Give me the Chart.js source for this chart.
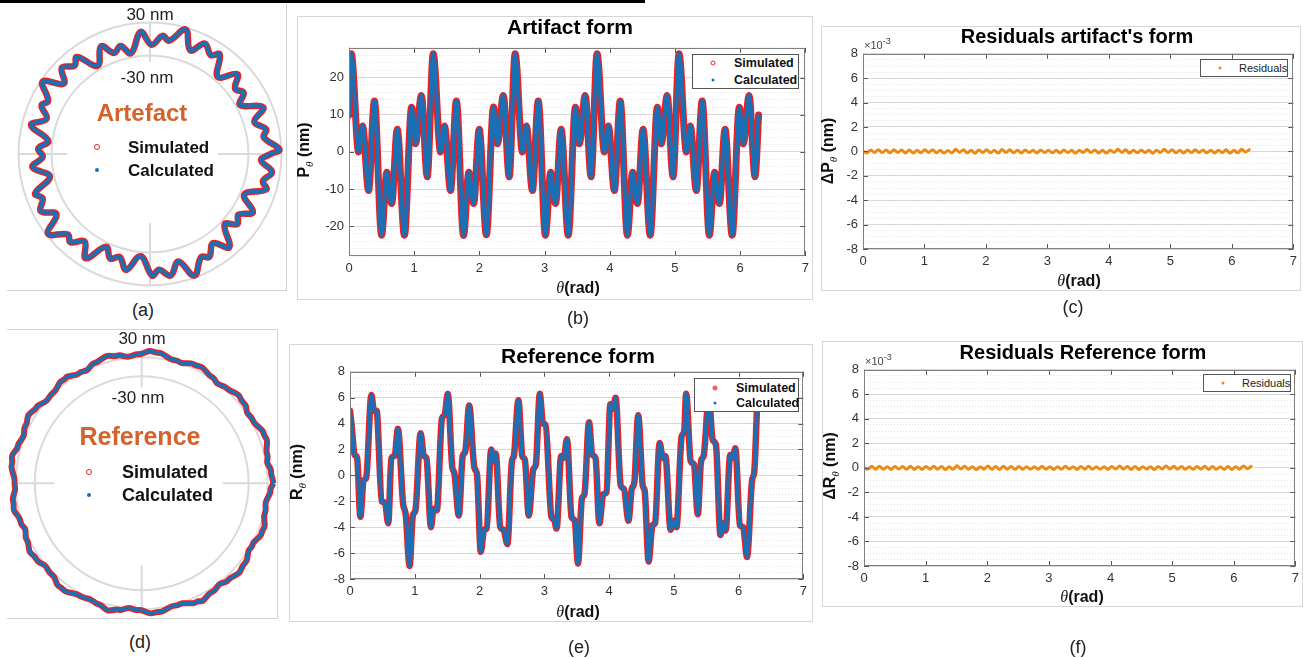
<!DOCTYPE html>
<html><head><meta charset="utf-8">
<script src="https://cdn.jsdelivr.net/npm/chart.js@4.4.1/dist/chart.umd.min.js"></script>
<style>
html,body{margin:0;padding:0;}
body{width:1303px;height:658px;position:relative;background:#fff;overflow:hidden;font-family:"Liberation Sans",Arial,Helvetica,sans-serif;color:#111;}
canvas{position:absolute;}
.t{position:absolute;transform:translate(-50%,-50%);white-space:nowrap;line-height:1;}
.l{position:absolute;transform:translateY(-50%);white-space:nowrap;line-height:1;}
.box{position:absolute;box-sizing:border-box;}
.ttl{font-weight:bold;color:#000;}
.ax{font-weight:bold;font-size:16px;color:#111;}
.rot{transform:translate(-50%,-50%) rotate(-90deg);}
.th{font-family:"Liberation Serif","DejaVu Serif",serif;font-style:italic;font-weight:normal;}
sub.th{font-size:11px;vertical-align:-4px;}
.lg{position:absolute;box-sizing:border-box;background:#fff;border:1px solid #555;}
.dot{position:absolute;border-radius:50%;transform:translate(-50%,-50%);box-sizing:border-box;}
.pl{font-size:18px;color:#222;}
.pol{font-size:17px;color:#222;}
.pleg{font-size:17px;font-weight:bold;color:#111;}
</style></head>
<body>
<!-- black strip at top -->
<div class="box" style="left:0;top:0;width:645px;height:3px;background:#000"></div>

<!-- panel frames -->
<div class="box" style="left:286px;top:4px;width:1px;height:287px;background:#d2d2d2"></div>
<div class="box" style="left:7px;top:290px;width:280px;height:1px;background:#d2d2d2"></div>
<div class="box" style="left:297px;top:16px;width:516px;height:284px;border:1px solid #d6d6d6"></div>
<div class="box" style="left:821px;top:26px;width:480px;height:265px;border:1px solid #d6d6d6"></div>
<div class="box" style="left:7px;top:329px;width:271px;height:290px;border:1px solid #d2d2d2;border-left:none"></div>
<div class="box" style="left:289px;top:344px;width:524px;height:278px;border:1px solid #d6d6d6"></div>
<div class="box" style="left:822px;top:341px;width:481px;height:266px;border:1px solid #d6d6d6"></div>

<canvas id="ca" width="280" height="286" style="left:7px;top:4px"></canvas>
<canvas id="cd" width="270" height="289" style="left:7px;top:329px"></canvas>
<canvas id="cb" width="515" height="251" style="left:299px;top:35px"></canvas>
<canvas id="ce" width="512" height="250" style="left:300px;top:359px"></canvas>
<canvas id="cc" width="489" height="238" style="left:813px;top:41px"></canvas>
<canvas id="cf" width="490" height="239" style="left:814px;top:357px"></canvas>

<!-- (a) polar labels -->
<div class="t pol" style="left:150px;top:14px">30 nm</div>
<div class="t pol" style="left:147px;top:77px;background:#fff;padding:0 2px">-30 nm</div>
<div class="t" style="left:142px;top:113px;font-size:24px;font-weight:bold;color:#d4622a">Artefact</div>
<div class="dot" style="left:97px;top:147px;width:6px;height:6px;border:1.5px solid #f02020"></div>
<div class="dot" style="left:97px;top:170px;width:4px;height:4px;background:#1a6fb5"></div>
<div class="l pleg" style="left:128px;top:147px">Simulated</div>
<div class="l pleg" style="left:128px;top:170px">Calculated</div>
<div class="t pl" style="left:143px;top:310px">(a)</div>

<!-- (d) polar labels -->
<div class="t pol" style="left:142px;top:338px">30 nm</div>
<div class="t pol" style="left:138px;top:397px;background:#fff;padding:0 2px">-30 nm</div>
<div class="t" style="left:140px;top:436px;font-size:25px;font-weight:bold;color:#d4622a">Reference</div>
<div class="dot" style="left:89px;top:472px;width:6px;height:6px;border:1.5px solid #f02020"></div>
<div class="dot" style="left:89px;top:495px;width:4px;height:4px;background:#1a6fb5"></div>
<div class="l pleg" style="left:122px;top:472px;font-size:18px">Simulated</div>
<div class="l pleg" style="left:122px;top:495px;font-size:18px">Calculated</div>
<div class="t pl" style="left:140px;top:642px">(d)</div>

<!-- (b) -->
<div class="t ttl" style="left:570px;top:26px;font-size:21px">Artifact form</div>
<div class="t ax" style="left:578px;top:288px"><span class="th">θ</span>(rad)</div>
<div class="t ax rot" style="left:305px;top:150px">P<sub class="th">θ</sub> (nm)</div>
<div class="lg" style="left:692px;top:54px;width:107px;height:35px"></div>
<div class="dot" style="left:713px;top:63px;width:5px;height:5px;border:1.3px solid #f02020"></div>
<div class="dot" style="left:713px;top:80px;width:3px;height:3px;background:#1a6fb5"></div>
<div class="l" style="left:734px;top:63px;font-size:12.5px;font-weight:bold">Simulated</div>
<div class="l" style="left:734px;top:80px;font-size:12.5px;font-weight:bold">Calculated</div>
<div class="t pl" style="left:578px;top:318px">(b)</div>

<!-- (e) -->
<div class="t ttl" style="left:578px;top:355px;font-size:21px">Reference form</div>
<div class="t ax" style="left:578px;top:612px"><span class="th">θ</span>(rad)</div>
<div class="t ax rot" style="left:298px;top:472px">R<sub class="th">θ</sub> (nm)</div>
<div class="lg" style="left:694px;top:378px;width:105px;height:34px"></div>
<div class="dot" style="left:715px;top:388px;width:5px;height:5px;background:#ff5a5a"></div>
<div class="dot" style="left:715px;top:403px;width:3px;height:3px;background:#1a6fb5"></div>
<div class="l" style="left:736px;top:388px;font-size:12.5px;font-weight:bold">Simulated</div>
<div class="l" style="left:736px;top:403px;font-size:12.5px;font-weight:bold">Calculated</div>
<div class="t pl" style="left:579px;top:647px">(e)</div>

<!-- (c) -->
<div class="t ttl" style="left:1077px;top:36px;font-size:20px">Residuals artifact's form</div>
<div class="l" style="left:864px;top:44px;font-size:11px;color:#444">×10<sup style="font-size:9px">-3</sup></div>
<div class="t ax" style="left:1079px;top:281px"><span class="th">θ</span>(rad)</div>
<div class="t ax rot" style="left:829px;top:151px">ΔP<sub class="th">θ</sub> (nm)</div>
<div class="lg" style="left:1200px;top:59px;width:88px;height:18px"></div>
<div class="dot" style="left:1220px;top:68px;width:3px;height:3px;background:#ee8a12"></div>
<div class="l" style="left:1239px;top:68px;font-size:11px;color:#222">Residuals</div>
<div class="t pl" style="left:1073px;top:307px">(c)</div>

<!-- (f) -->
<div class="t ttl" style="left:1083px;top:352px;font-size:20px">Residuals Reference form</div>
<div class="l" style="left:865px;top:360px;font-size:11px;color:#444">×10<sup style="font-size:9px">-3</sup></div>
<div class="t ax" style="left:1082px;top:597px"><span class="th">θ</span>(rad)</div>
<div class="t ax rot" style="left:831px;top:466px">ΔR<sub class="th">θ</sub> (nm)</div>
<div class="lg" style="left:1203px;top:374px;width:88px;height:18px"></div>
<div class="dot" style="left:1223px;top:383px;width:3px;height:3px;background:#ee8a12"></div>
<div class="l" style="left:1242px;top:383px;font-size:11px;color:#222">Residuals</div>
<div class="t pl" style="left:1078px;top:647px">(f)</div>

<script>
// ---------- DATA ----------
// Artifact form P(theta), nm — extrema
const artTheta = [0,
 0.035,0.147,0.208,0.300,0.390,0.500,0.580,0.655,0.740,0.850,0.960,1.020,1.110,1.200,
 1.292,1.404,1.465,1.557,1.647,1.757,1.837,1.912,1.997,2.107,2.217,2.277,2.367,2.457,
 2.548,2.660,2.721,2.813,2.903,3.013,3.093,3.168,3.253,3.363,3.473,3.533,3.623,3.713,
 3.805,3.917,3.978,4.070,4.160,4.270,4.350,4.425,4.510,4.620,4.730,4.790,4.880,4.970,
 5.062,5.174,5.235,5.327,5.417,5.527,5.607,5.682,5.767,5.877,5.987,6.047,6.137,6.227,
 6.283];
const artP = [9.9,
 26.4,0.0,7.0,-10.4,13.7,-22.4,-5.5,-13.9,6.1,-22.4,12.0,2.2,15.2,-6.7,
 26.4,0.0,7.0,-10.4,13.7,-22.5,-5.5,-13.9,6.1,-22.3,12.1,2.2,15.2,-6.7,
 26.4,0.0,7.0,-10.4,13.7,-22.4,-5.5,-13.9,6.1,-22.4,12.0,2.2,15.2,-6.7,
 26.4,0.0,7.0,-10.4,13.7,-22.4,-5.5,-13.9,6.1,-22.4,12.0,2.2,15.2,-6.7,
 26.4,0.0,7.0,-10.4,13.7,-22.4,-5.5,-13.9,6.1,-22.4,12.0,2.2,15.2,-6.7,
 9.9];

// Reference form R(theta), nm
const refTheta = [0.00,0.03,0.07,0.11,0.16,0.21,0.25,0.33,0.37,0.41,
 0.49,0.54,0.59,0.64,0.69,0.74,0.82,0.86,0.92,0.97,
 1.01,1.09,1.14,1.18,1.25,1.29,1.34,1.42,1.46,1.51,
 1.58,1.61,1.68,1.74,1.78,1.84,1.92,1.96,2.02,2.07,
 2.11,2.18,2.21,2.25,2.32,2.37,2.43,2.50,2.53,2.60,
 2.66,2.70,2.76,2.83,2.87,2.93,2.98,3.02,3.11,3.15,
 3.19,3.26,3.30,3.35,3.42,3.47,3.52,3.58,3.62,3.69,
 3.74,3.79,3.85,3.91,3.96,4.02,4.06,4.10,4.18,4.23,
 4.30,4.35,4.39,4.45,4.52,4.55,4.61,4.67,4.71,4.78,
 4.83,4.87,4.95,5.00,5.04,5.12,5.16,5.19,5.26,5.31,
 5.37,5.42,5.46,5.54,5.60,5.65,5.72,5.76,5.80,5.87,
 5.91,5.95,6.02,6.07,6.13,6.21,6.24,6.283];
const refR = [5.0,3.6,1.6,1.35,-3.2,-0.4,-0.2,6.2,5.0,5.0,
 -2.0,-2.1,-3.7,1.35,1.5,3.6,-2.2,-3.0,-7.0,-3.1,
 -2.7,3.25,1.5,1.35,-4.0,-2.6,-2.7,4.4,4.65,6.3,
 0.6,0.2,-3.1,1.5,1.85,5.4,0.6,0.1,-5.9,-4.2,
 -4.1,2.0,1.1,1.7,-4.0,-4.2,-5.3,1.1,1.5,5.8,
 1.5,1.2,-3.1,0.45,0.85,6.3,4.0,3.9,-3.2,-3.4,
 -4.1,1.5,1.35,2.8,-3.2,-3.5,-6.8,-1.8,-1.45,4.1,
 1.6,1.35,-3.7,-1.45,-1.3,5.5,5.15,6.0,-0.8,-1.05,
 -3.5,-1.05,-0.55,4.65,-0.8,-1.2,-6.65,-3.85,-3.7,2.5,
 1.35,1.5,-4.2,-3.5,-4.0,3.0,3.4,6.3,1.1,0.85,
 -3.0,1.1,1.5,6.0,2.75,2.35,-4.6,-3.7,-4.25,1.6,
 1.35,2.1,-3.85,-4.0,-6.3,-0.3,0.2,5.0];

// Residuals (units of 1e-3 nm) (c) and (f)
const resTheta = [0,0.063,0.126,0.188,0.251,0.314,0.377,0.440,0.503,0.565,
 0.628,0.691,0.754,0.817,0.880,0.942,1.005,1.068,1.131,1.194,
 1.257,1.319,1.382,1.445,1.508,1.571,1.634,1.696,1.759,1.822,
 1.885,1.948,2.011,2.073,2.136,2.199,2.262,2.325,2.388,2.450,
 2.513,2.576,2.639,2.702,2.765,2.827,2.890,2.953,3.016,3.079,
 3.142,3.204,3.267,3.330,3.393,3.456,3.519,3.581,3.644,3.707,
 3.770,3.833,3.896,3.958,4.021,4.084,4.147,4.210,4.273,4.335,
 4.398,4.461,4.524,4.587,4.650,4.712,4.775,4.838,4.901,4.964,
 5.027,5.089,5.152,5.215,5.278,5.341,5.404,5.466,5.529,5.592,
 5.655,5.718,5.781,5.843,5.906,5.969,6.032,6.095,6.158,6.220,
 6.283];
const resP = [0.00,-0.13,0.12,-0.09,0.14,-0.10,0.12,-0.12,0.13,-0.09,
 0.11,-0.13,0.12,-0.14,0.09,-0.12,0.13,-0.09,0.14,-0.12,
 0.10,-0.14,0.08,-0.13,0.17,-0.08,0.14,-0.13,0.09,-0.15,
 0.12,-0.09,0.14,-0.12,0.10,-0.14,0.16,-0.09,0.13,-0.12,
 0.10,-0.13,0.12,-0.10,0.09,-0.13,0.12,-0.09,0.10,-0.12,
 0.09,-0.13,0.12,-0.10,0.09,-0.14,0.10,-0.09,0.16,-0.10,
 0.12,-0.13,0.09,-0.14,0.10,-0.08,0.17,-0.09,0.13,-0.14,
 0.10,-0.12,0.12,-0.10,0.09,-0.15,0.10,-0.09,0.17,-0.08,
 0.14,-0.12,0.10,-0.13,0.12,-0.10,0.13,-0.09,0.12,-0.12,
 0.10,-0.13,0.09,-0.10,0.13,-0.14,0.09,-0.12,0.17,-0.04,
 0.14];
const resR = [0.03,-0.12,0.13,-0.10,0.14,-0.12,0.10,-0.13,0.12,-0.09,
 0.12,-0.12,0.13,-0.13,0.10,-0.13,0.12,-0.10,0.13,-0.10,
 0.12,-0.14,0.09,-0.12,0.17,-0.09,0.13,-0.12,0.10,-0.14,
 0.10,-0.10,0.16,-0.12,0.12,-0.13,0.14,-0.10,0.12,-0.12,
 0.12,-0.12,0.10,-0.12,0.10,-0.12,0.13,-0.10,0.09,-0.13,
 0.10,-0.12,0.13,-0.09,0.10,-0.13,0.12,-0.10,0.14,-0.12,
 0.10,-0.12,0.10,-0.13,0.12,-0.09,0.16,-0.10,0.12,-0.13,
 0.12,-0.13,0.10,-0.09,0.10,-0.14,0.12,-0.10,0.16,-0.09,
 0.13,-0.10,0.12,-0.12,0.10,-0.12,0.12,-0.10,0.13,-0.13,
 0.12,-0.12,0.10,-0.12,0.12,-0.13,0.10,-0.10,0.16,-0.06,
 0.13];

// polar ring values (nm) shown as the "-30 nm" / "30 nm" circles
const artRings = [-30, 30];
const refRings = [-40, -5.5];

// ---------- STYLE ----------
const BLUE = '#1a6fb5', RED = '#f01e1e', ORANGE = '#ee8a12';
Chart.defaults.font.family = "'Liberation Sans', Arial, sans-serif";
Chart.defaults.color = '#333';

function xy(t, v){ return t.map((x,i)=>({x:x, y:v[i]})); }

function axesBox(isMajor){
  return {
    id:'mbox',
    afterDatasetsDraw(chart){
      const {ctx, chartArea:a, scales:{x,y}} = chart;
      ctx.save();
      ctx.strokeStyle = '#555'; ctx.lineWidth = 1;
      ctx.beginPath();
      x.ticks.forEach(t=>{
        const px = Math.round(x.getPixelForValue(t.value)) + 0.5;
        ctx.moveTo(px, a.bottom); ctx.lineTo(px, a.bottom - 5);
        ctx.moveTo(px, a.top); ctx.lineTo(px, a.top + 5);
      });
      y.ticks.forEach(t=>{
        if(!isMajor(t.value)) return;
        const py = Math.round(y.getPixelForValue(t.value)) + 0.5;
        ctx.moveTo(a.left, py); ctx.lineTo(a.left + 5, py);
        ctx.moveTo(a.right, py); ctx.lineTo(a.right - 5, py);
      });
      ctx.stroke();
      ctx.strokeStyle = '#808080';
      ctx.strokeRect(Math.round(a.left)+0.5, Math.round(a.top)+0.5, Math.round(a.right-a.left)-1, Math.round(a.bottom-a.top)-1);
      ctx.restore();
    }
  };
}

function cartesian(id, datasets, yMin, yMax, yStep, yMajor, fs){
  const isMajor = v => Math.abs(v/yMajor - Math.round(v/yMajor)) < 1e-6;
  return new Chart(document.getElementById(id), {
    type:'line',
    data:{datasets},
    options:{
      responsive:false, animation:false, events:[],
      layout:{padding:{top:10, right:6, left:0, bottom:0}},
      plugins:{legend:{display:false}, tooltip:{enabled:false}},
      elements:{point:{radius:0}, line:{borderJoinStyle:'round', borderCapStyle:'round'}},
      scales:{
        x:{type:'linear', min:0, max:7,
           ticks:{stepSize:1, padding:5, font:{size:fs}, color:'#333', maxRotation:0, autoSkip:false},
           grid:{display:false, drawTicks:false}, border:{display:false},
           afterFit:s=>{ s.height = 30; }},
        y:{type:'linear', min:yMin, max:yMax,
           ticks:{stepSize:yStep, maxTicksLimit:500, autoSkip:false, padding:5, font:{size:fs}, color:'#333',
                  callback:v => isMajor(v) ? String(Math.round(v)) : ''},
           grid:{drawTicks:false, lineWidth:1,
                 color:c => (c.tick && isMajor(c.tick.value)) ? '#d8d8d8' : '#e2e2e2'},
           border:{display:false, dash:c => (c.tick && isMajor(c.tick.value)) ? [] : [1,2]},
           afterFit:s=>{ s.width = 50; }}
      }
    },
    plugins:[axesBox(isMajor)]
  });
}

function polarDecor(cfg){
  return {
    id:'pdecor',
    beforeDatasetsDraw(chart){
      const {ctx, scales:{x,y}} = chart;
      const cx = x.getPixelForValue(0), cy = y.getPixelForValue(0);
      const k = x.getPixelForValue(1) - cx;
      ctx.save();
      ctx.strokeStyle = '#dadada'; ctx.lineWidth = 2;
      cfg.rings.forEach(v=>{
        ctx.beginPath(); ctx.arc(cx, cy, (v + cfg.offset)*k, 0, 2*Math.PI); ctx.stroke();
      });
      const R = (cfg.rings[cfg.rings.length-1] + cfg.offset)*k;
      cfg.spokes.forEach(([deg, r0])=>{
        const a = deg*Math.PI/180;
        ctx.beginPath();
        ctx.moveTo(cx + r0*Math.cos(a), cy - r0*Math.sin(a));
        ctx.lineTo(cx + R*Math.cos(a), cy - R*Math.sin(a));
        ctx.stroke();
      });
      ctx.restore();
    }
  };
}

function polar(id, theta, r, cfg){
  const pts = theta.map((t,i)=>({x:(r[i]+cfg.offset)*Math.cos(t), y:(r[i]+cfg.offset)*Math.sin(t)}));
  return new Chart(document.getElementById(id), {
    type:'scatter',
    data:{datasets:[
      {label:'Calculated', data:pts, showLine:true, borderColor:BLUE, borderWidth:cfg.bw, pointRadius:0, tension:cfg.tension, order:0},
      {label:'Simulated', data:pts, showLine:true, borderColor:RED, borderWidth:cfg.rw, pointRadius:0, tension:cfg.tension, order:1}
    ]},
    options:{
      responsive:false, animation:false, events:[],
      layout:{padding:0},
      plugins:{legend:{display:false}, tooltip:{enabled:false}},
      elements:{line:{borderJoinStyle:'round'}},
      scales:{
        x:{type:'linear', display:false, min:cfg.xmin, max:cfg.xmax},
        y:{type:'linear', display:false, min:cfg.ymin, max:cfg.ymax}
      }
    },
    plugins:[polarDecor(cfg)]
  });
}

// (a) polar artifact
polar('ca', artTheta, artP, {
  offset:209, rings:artRings, xmin:-260, xmax:249.09, ymin:-247.27, ymax:272.73,
  spokes:[[0,68],[90,92],[180,83],[270,69]], bw:4, rw:6.5, tension:0.4
});
// (d) polar reference
polar('cd', refTheta, refR, {
  offset:234.5, rings:refRings, xmin:-244.9, xmax:246, ymin:-244.9, ymax:280.5,
  spokes:[[0,81],[90,96],[180,87],[270,82]], bw:3.5, rw:6, tension:0.3
});

// (b) artifact form
cartesian('cb', [
  {label:'Calculated', data:xy(artTheta, artP), borderColor:BLUE, borderWidth:4.2, cubicInterpolationMode:'monotone', order:0},
  {label:'Simulated', data:xy(artTheta, artP), borderColor:RED, borderWidth:7, cubicInterpolationMode:'monotone', order:1}
], -28, 28, 2, 10, 13);

// (e) reference form
cartesian('ce', [
  {label:'Calculated', data:xy(refTheta, refR), borderColor:BLUE, borderWidth:4, cubicInterpolationMode:'monotone', order:0},
  {label:'Simulated', data:xy(refTheta, refR), borderColor:RED, borderWidth:6.5, cubicInterpolationMode:'monotone', order:1}
], -8, 8, 0.5, 2, 13);

// (c) residuals artifact
cartesian('cc', [
  {label:'Residuals', data:xy(resTheta, resP), borderColor:ORANGE, borderWidth:3, cubicInterpolationMode:'monotone'}
], -8, 8, 0.5, 2, 13);

// (f) residuals reference
cartesian('cf', [
  {label:'Residuals', data:xy(resTheta, resR), borderColor:ORANGE, borderWidth:3, cubicInterpolationMode:'monotone'}
], -8, 8, 0.5, 2, 13);
</script>
</body></html>
